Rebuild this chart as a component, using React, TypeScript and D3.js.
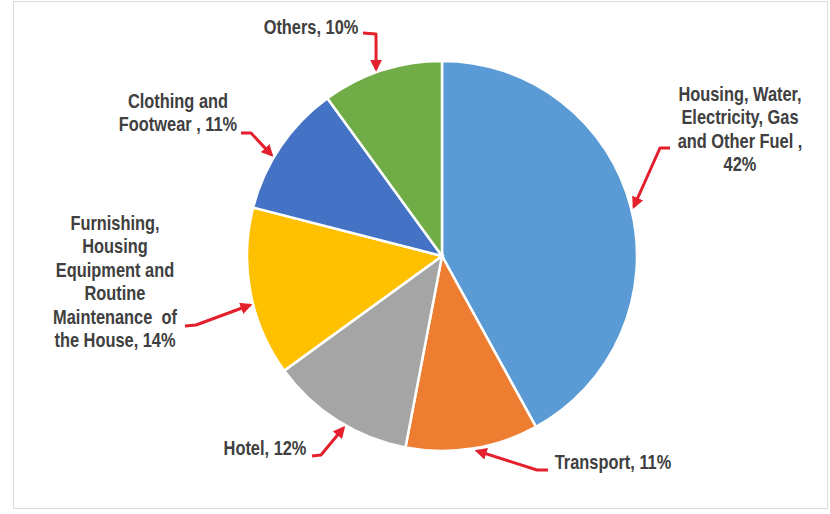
import React from "react";
import * as d3 from "d3";

// slice data, clockwise from 12 o'clock
const categories = [
  "Housing, Water, Electricity, Gas and Other Fuel",
  "Transport",
  "Hotel",
  "Furnishing, Housing Equipment and Routine Maintenance of the House",
  "Clothing and Footwear",
  "Others",
];
const shares = [42, 11, 12, 14, 11, 10];
const colors = ["#5B9BD5", "#ED7D31", "#A5A5A5", "#FFC000", "#4472C4", "#70AD47"];

// label lines as they wrap in the picture
const labelLines = [
  ["Housing, Water,", "Electricity, Gas", "and Other Fuel ,", "42%"],
  ["Transport, 11%"],
  ["Hotel, 12%"],
  ["Furnishing,", "Housing", "Equipment and", "Routine", "Maintenance  of", "the House, 14%"],
  ["Clothing and", "Footwear , 11%"],
  ["Others, 10%"],
];

// label placement: text centre x, first baseline, connector start/knee, where on the slice the arrow lands
const labelLayout = [
  { x: 740, y: 101, start: [670, 148], knee: [660, 148], t: 0.5 },
  { x: 613, y: 469, start: [548, 470], knee: [537, 470], t: 0.47 },
  { x: 265, y: 455, start: [312, 456], knee: [321, 455], t: 0.44 },
  { x: 115, y: 230, start: [185, 326], knee: [196, 325], t: 0.43 },
  { x: 178, y: 108, start: [241, 133], knee: [251, 133], t: 0.41 },
  { x: 311, y: 34, start: [363, 33], knee: [376, 34], t: 0.46 },
];

const W = 830;
const H = 514;
const CX = 442;
const CY = 256;
const R = 195;
const LINE_H = 23.5;
const RED = "#E3202B";
const NARROW = 0.82; // Arial Narrow look from Liberation Sans

export default function App() {
  const pie = d3.pie<number>().sort(null).value((d) => d)(shares);
  const arc = d3.arc<d3.PieArcDatum<number>>().innerRadius(0).outerRadius(R);
  const line = d3.line();

  return (
    <svg
      width={W}
      height={H}
      style={{ position: "absolute", left: 0, top: 0, background: "#fff" }}
      fontFamily="'Liberation Sans', Arial, sans-serif"
    >
      <defs>
        <marker id="head" viewBox="0 0 10 10" refX="8" refY="5" markerWidth="4" markerHeight="4" orient="auto">
          <path d="M0,0 L10,5 L0,10 z" fill={RED} />
        </marker>
      </defs>
      <rect x={13.5} y={1.5} width={814} height={507} fill="#fff" stroke="#dcdcdc" />
      <g transform={`translate(${CX},${CY})`}>
        {pie.map((p, i) => (
          <path key={categories[i]} d={arc(p) || ""} fill={colors[i]} stroke="#fff" strokeWidth={2.5} />
        ))}
      </g>
      {pie.map((p, i) => {
        const lay = labelLayout[i];
        const a = p.startAngle + (p.endAngle - p.startAngle) * lay.t;
        const tip: [number, number] = [CX + (R + 3) * Math.sin(a), CY - (R + 3) * Math.cos(a)];
        return (
          <g key={categories[i]}>
            <path
              d={line([lay.start as [number, number], lay.knee as [number, number], tip]) || ""}
              fill="none"
              stroke={RED}
              strokeWidth={3}
              strokeLinejoin="round"
              markerEnd="url(#head)"
            />
            <text
              transform={`translate(${lay.x},0) scale(${NARROW},1)`}
              textAnchor="middle"
              fontSize={20}
              fontWeight="bold"
              fill="#404040"
            >
              {labelLines[i].map((s, j) => (
                <tspan key={j} x={0} y={lay.y + j * LINE_H} style={{ whiteSpace: "pre" }}>
                  {s}
                </tspan>
              ))}
            </text>
          </g>
        );
      })}
    </svg>
  );
}
